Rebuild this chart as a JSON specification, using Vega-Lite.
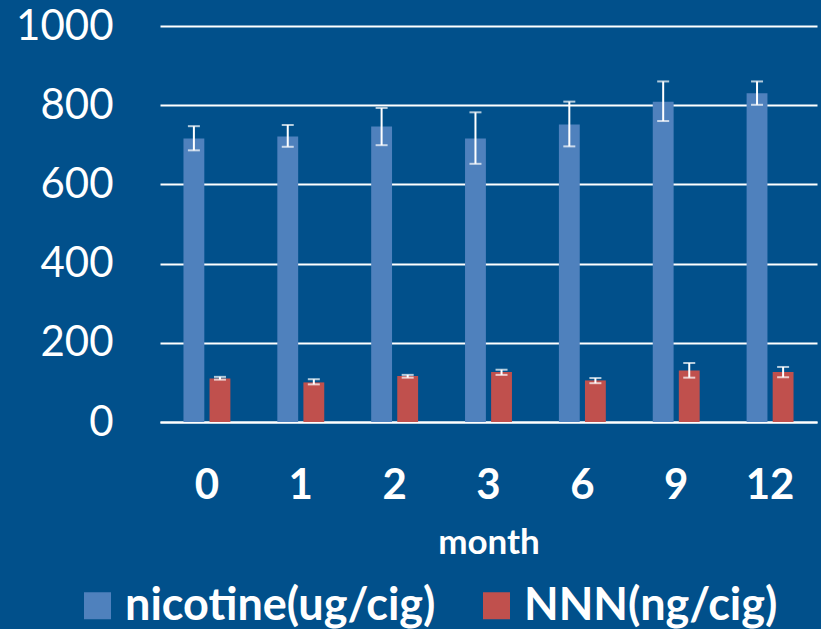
{
  "$schema": "https://vega.github.io/schema/vega-lite/v6.json",
  "autosize": {"type": "none"},
  "width": 657,
  "height": 396,
  "padding": {"left": 160, "top": 26, "right": 4, "bottom": 207},
  "background": "#01508b",
  "config": {
    "view": {"stroke": null},
    "font": "Lato"
  },
  "data": {
    "values": [
      {"month": 0, "series": "nicotine(ug/cig)", "value": 716, "lo": 686, "hi": 747},
      {"month": 1, "series": "nicotine(ug/cig)", "value": 721, "lo": 695, "hi": 750},
      {"month": 2, "series": "nicotine(ug/cig)", "value": 746, "lo": 699, "hi": 793},
      {"month": 3, "series": "nicotine(ug/cig)", "value": 716, "lo": 652, "hi": 782},
      {"month": 6, "series": "nicotine(ug/cig)", "value": 751, "lo": 696, "hi": 809},
      {"month": 9, "series": "nicotine(ug/cig)", "value": 809, "lo": 760, "hi": 860},
      {"month": 12, "series": "nicotine(ug/cig)", "value": 830, "lo": 801, "hi": 860},
      {"month": 0, "series": "NNN(ng/cig)", "value": 110, "lo": 107, "hi": 114},
      {"month": 1, "series": "NNN(ng/cig)", "value": 100, "lo": 95, "hi": 108},
      {"month": 2, "series": "NNN(ng/cig)", "value": 116, "lo": 112, "hi": 119},
      {"month": 3, "series": "NNN(ng/cig)", "value": 126, "lo": 119, "hi": 132},
      {"month": 6, "series": "NNN(ng/cig)", "value": 105, "lo": 98, "hi": 111},
      {"month": 9, "series": "NNN(ng/cig)", "value": 130, "lo": 112, "hi": 149},
      {"month": 12, "series": "NNN(ng/cig)", "value": 126, "lo": 113, "hi": 139}
    ]
  },
  "encoding": {
    "x": {
      "field": "month",
      "type": "ordinal",
      "scale": {"paddingInner": 0.5, "paddingOuter": 0.25},
      "axis": {
        "labelAngle": 0,
        "labelFont": "Lato",
        "labelFontWeight": "bold",
        "labelFontSize": 42,
        "labelColor": "white",
        "labelPadding": 43,
        "ticks": false,
        "domainColor": "white",
        "domainWidth": 2,
        "title": "month",
        "titleFont": "Lato",
        "titleFontWeight": "bold",
        "titleFontSize": 35,
        "titleColor": "white",
        "titlePadding": 19
      }
    },
    "xOffset": {
      "field": "series",
      "type": "nominal",
      "sort": ["nicotine(ug/cig)", "NNN(ng/cig)"],
      "scale": {"paddingInner": 0.2}
    }
  },
  "layer": [
    {
      "mark": {"type": "bar"},
      "encoding": {
        "y": {
          "field": "value",
          "type": "quantitative",
          "scale": {"domain": [0, 1000]},
          "axis": {
            "values": [0, 200, 400, 600, 800, 1000],
            "format": "d",
            "title": null,
            "domain": false,
            "ticks": false,
            "labelFont": "Lato",
            "labelFontSize": 42,
            "labelColor": "white",
            "labelPadding": 47,
            "gridColor": "white",
            "gridWidth": 2,
            "gridOpacity": 1
          }
        },
        "color": {
          "field": "series",
          "type": "nominal",
          "sort": ["nicotine(ug/cig)", "NNN(ng/cig)"],
          "scale": {"range": ["#4f81bd", "#c0504d"]},
          "legend": {
            "title": null,
            "orient": "none",
            "direction": "horizontal",
            "legendX": -85,
            "legendY": 557,
            "symbolType": "square",
            "symbolSize": 729,
            "symbolStrokeWidth": 0,
            "symbolOpacity": 1,
            "labelFont": "Lato",
            "labelFontWeight": "bold",
            "labelFontSize": 45,
            "labelColor": "white",
            "labelOffset": 5,
            "columnPadding": 38,
            "labelLimit": 600
          }
        }
      }
    },
    {
      "mark": {"type": "rule", "color": "white", "strokeWidth": 2},
      "encoding": {
        "y": {"field": "lo", "type": "quantitative"},
        "y2": {"field": "hi"}
      }
    },
    {
      "mark": {"type": "tick", "color": "white", "size": 12, "thickness": 2, "orient": "horizontal"},
      "encoding": {
        "y": {"field": "lo", "type": "quantitative"}
      }
    },
    {
      "mark": {"type": "tick", "color": "white", "size": 12, "thickness": 2, "orient": "horizontal"},
      "encoding": {
        "y": {"field": "hi", "type": "quantitative"}
      }
    }
  ]
}
